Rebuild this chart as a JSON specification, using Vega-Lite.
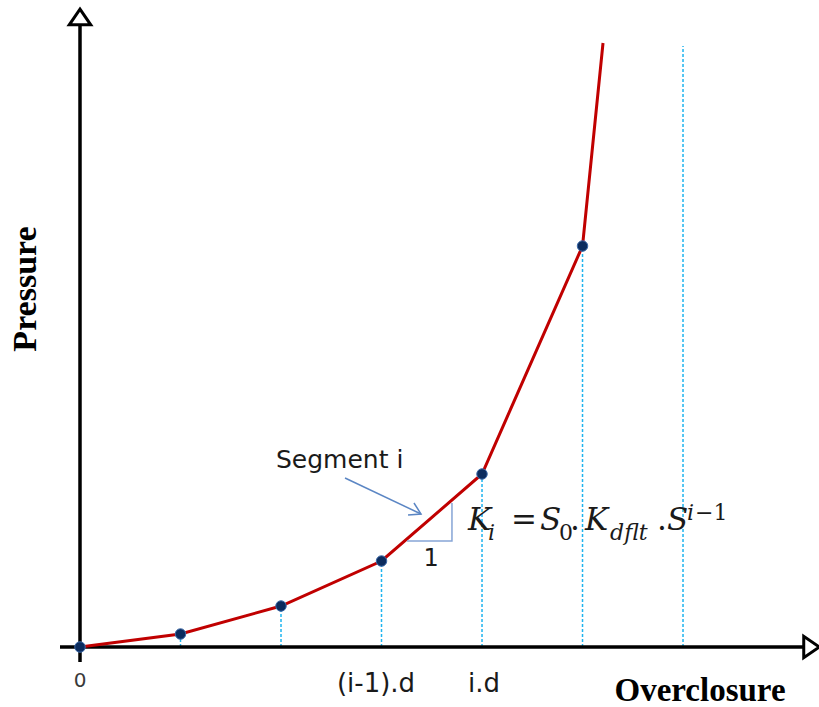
{
  "$schema": "https://vega.github.io/schema/vega-lite/v6.json",
  "width": 819,
  "height": 707,
  "autosize": {"type": "none"},
  "padding": 0,
  "background": "white",
  "config": {"view": {"stroke": null}},
  "datasets": {
    "curve": [
      {"x": 0, "y": 0},
      {"x": 1, "y": 0.13},
      {"x": 2, "y": 0.41},
      {"x": 3, "y": 0.86},
      {"x": 4, "y": 1.73},
      {"x": 5, "y": 4.01},
      {"x": 5.204, "y": 6.04}
    ],
    "drops": [
      {"x": 1, "y": 0, "y2": 0.13},
      {"x": 2, "y": 0, "y2": 0.41},
      {"x": 3, "y": 0, "y2": 0.86},
      {"x": 4, "y": 0, "y2": 1.73},
      {"x": 5, "y": 0, "y2": 4.01},
      {"x": 6, "y": 0, "y2": 6.01}
    ],
    "axes": [
      {"x": -0.199, "y": 0, "x2": 7.214, "y2": 0},
      {"x": 0, "y": -0.15, "x2": 0, "y2": 6.22}
    ],
    "topArrow": [{"x": 0, "y": 6.3}],
    "rightArrow": [{"x": 7.279, "y": 0}],
    "pointer": [{"x": 2.637, "y": 1.69, "x2": 3.393, "y2": 1.33}],
    "pointerHead": [
      {"x": 3.264, "y": 1.32, "k": 1},
      {"x": 3.393, "y": 1.33, "k": 2},
      {"x": 3.323, "y": 1.44, "k": 3}
    ],
    "slope": [
      {"x": 3.254, "y": 1.06, "k": 1},
      {"x": 3.701, "y": 1.06, "k": 2},
      {"x": 3.701, "y": 1.44, "k": 3}
    ],
    "tickLabels": [
      {"x": 0, "y": -0.4, "label": "0"}
    ],
    "stepLabels": [
      {"x": 2.945, "y": -0.45, "label": "(i-1).d"},
      {"x": 4.02, "y": -0.45, "label": "i.d"}
    ],
    "notes": [
      {"x": 1.95, "y": 1.79, "label": "Segment i"}
    ],
    "unit": [
      {"x": 3.493, "y": 0.81, "label": "1"}
    ],
    "xTitle": [{"x": 6.169, "y": -0.535, "label": "Overclosure"}],
    "yTitle": [{"x": -0.438, "y": 3.58, "label": "Pressure"}],
    "mathItalic": [
      {"x": 3.861, "y": 1.17, "label": "K"},
      {"x": 4.577, "y": 1.17, "label": "S"},
      {"x": 5.025, "y": 1.17, "label": "K"},
      {"x": 5.841, "y": 1.17, "label": "S"}
    ],
    "mathUpright": [
      {"x": 4.289, "y": 1.17, "label": "="},
      {"x": 4.876, "y": 1.17, "label": "."},
      {"x": 5.741, "y": 1.17, "label": "."}
    ],
    "mathSubItalic": [
      {"x": 4.06, "y": 1.07, "label": "i"},
      {"x": 5.274, "y": 1.07, "label": "dflt"},
      {"x": 6.04, "y": 1.27, "label": "i"}
    ],
    "mathSubUpright": [
      {"x": 4.766, "y": 1.07, "label": "0"},
      {"x": 6.119, "y": 1.27, "label": "−1"}
    ]
  },
  "encoding": {
    "x": {"field": "x", "type": "quantitative", "scale": {"domain": [-0.796, 7.353], "nice": false, "zero": false}, "axis": null},
    "y": {"field": "y", "type": "quantitative", "scale": {"domain": [-0.6, 6.47], "nice": false, "zero": false}, "axis": null}
  },
  "layer": [
    {
      "data": {"name": "drops"},
      "mark": {"type": "rule", "color": "#1fb4ee", "strokeWidth": 1.5, "strokeDash": [3, 2]},
      "encoding": {"y2": {"field": "y2"}}
    },
    {
      "data": {"name": "axes"},
      "mark": {"type": "rule", "color": "black", "strokeWidth": 3.5},
      "encoding": {"x2": {"field": "x2"}, "y2": {"field": "y2"}}
    },
    {
      "data": {"name": "topArrow"},
      "mark": {"type": "point", "shape": "M0,-0.73L1,0.73L-1,0.73Z", "size": 460, "filled": true, "fill": "white", "stroke": "black", "strokeWidth": 3, "opacity": 1}
    },
    {
      "data": {"name": "rightArrow"},
      "mark": {"type": "point", "shape": "M0.73,0L-0.73,-1L-0.73,1Z", "size": 460, "filled": true, "fill": "white", "stroke": "black", "strokeWidth": 3, "opacity": 1}
    },
    {
      "data": {"name": "curve"},
      "mark": {"type": "line", "color": "#c00000", "strokeWidth": 3}
    },
    {
      "data": {"name": "curve"},
      "transform": [{"filter": "datum.x <= 5"}],
      "mark": {"type": "point", "shape": "circle", "size": 110, "filled": true, "fill": "#0c2c5e", "stroke": "#3d6aa8", "strokeWidth": 1, "opacity": 1}
    },
    {
      "data": {"name": "pointer"},
      "mark": {"type": "rule", "color": "#5b86c4", "strokeWidth": 1.5},
      "encoding": {"x2": {"field": "x2"}, "y2": {"field": "y2"}}
    },
    {
      "data": {"name": "pointerHead"},
      "mark": {"type": "line", "color": "#5b86c4", "strokeWidth": 1.5},
      "encoding": {"order": {"field": "k"}}
    },
    {
      "data": {"name": "slope"},
      "mark": {"type": "line", "color": "#86a5d6", "strokeWidth": 1.5},
      "encoding": {"order": {"field": "k"}}
    },
    {
      "data": {"name": "tickLabels"},
      "mark": {"type": "text", "font": "DejaVu Sans", "fontSize": 20, "color": "#3a3a3a", "align": "center", "baseline": "alphabetic"},
      "encoding": {"text": {"field": "label"}}
    },
    {
      "data": {"name": "stepLabels"},
      "mark": {"type": "text", "font": "DejaVu Sans", "fontSize": 26, "color": "#1a1a1a", "align": "center", "baseline": "alphabetic"},
      "encoding": {"text": {"field": "label"}}
    },
    {
      "data": {"name": "notes"},
      "mark": {"type": "text", "font": "DejaVu Sans", "fontSize": 25, "color": "#1a1a1a", "align": "left", "baseline": "alphabetic"},
      "encoding": {"text": {"field": "label"}}
    },
    {
      "data": {"name": "unit"},
      "mark": {"type": "text", "font": "DejaVu Sans", "fontSize": 24, "color": "#1a1a1a", "align": "center", "baseline": "alphabetic"},
      "encoding": {"text": {"field": "label"}}
    },
    {
      "data": {"name": "xTitle"},
      "mark": {"type": "text", "font": "Liberation Serif", "fontWeight": "bold", "fontSize": 33, "color": "black", "align": "center", "baseline": "alphabetic"},
      "encoding": {"text": {"field": "label"}}
    },
    {
      "data": {"name": "yTitle"},
      "mark": {"type": "text", "font": "Liberation Serif", "fontWeight": "bold", "fontSize": 34, "color": "black", "align": "center", "baseline": "alphabetic", "angle": 270},
      "encoding": {"text": {"field": "label"}}
    },
    {
      "data": {"name": "mathItalic"},
      "mark": {"type": "text", "font": "DejaVu Serif", "fontStyle": "italic", "fontSize": 31, "color": "#1a1a1a", "align": "left", "baseline": "alphabetic"},
      "encoding": {"text": {"field": "label"}}
    },
    {
      "data": {"name": "mathUpright"},
      "mark": {"type": "text", "font": "DejaVu Serif", "fontSize": 31, "color": "#1a1a1a", "align": "left", "baseline": "alphabetic"},
      "encoding": {"text": {"field": "label"}}
    },
    {
      "data": {"name": "mathSubItalic"},
      "mark": {"type": "text", "font": "DejaVu Serif", "fontStyle": "italic", "fontSize": 22, "color": "#1a1a1a", "align": "left", "baseline": "alphabetic"},
      "encoding": {"text": {"field": "label"}}
    },
    {
      "data": {"name": "mathSubUpright"},
      "mark": {"type": "text", "font": "DejaVu Serif", "fontSize": 22, "color": "#1a1a1a", "align": "left", "baseline": "alphabetic"},
      "encoding": {"text": {"field": "label"}}
    }
  ]
}
